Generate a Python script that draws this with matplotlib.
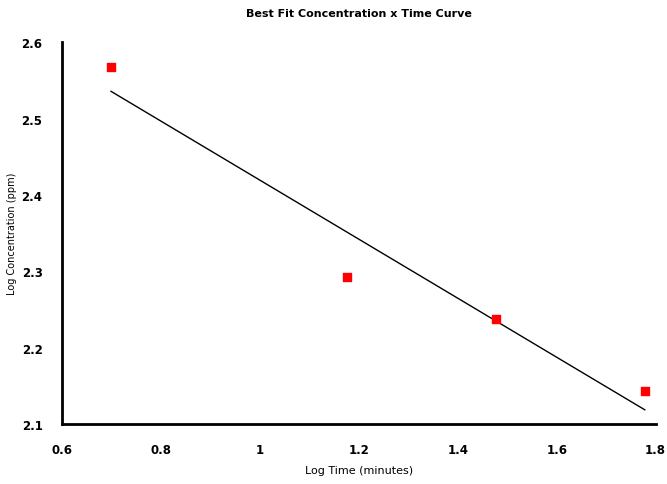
import numpy as np
import matplotlib.pyplot as plt

# log time (minutes) vs log concentration (ppm)
log_time = [0.699, 1.176, 1.477, 1.778]
log_conc = [2.568, 2.292, 2.237, 2.143]

x_ticks = [0.6, 0.8, 1.0, 1.2, 1.4, 1.6, 1.8]
x_tick_labels = ["0.6", "0.8", "1", "1.2", "1.4", "1.6", "1.8"]
y_ticks = [2.1, 2.2, 2.3, 2.4, 2.5, 2.6]

# best fit line from the points
slope, intercept = np.polyfit(log_time, log_conc, 1)
fit_x = np.array([log_time[0], log_time[-1]])
fit_y = intercept + slope * fit_x

fig = plt.figure(figsize=(6.67, 4.85), dpi=100)
ax = fig.add_axes([0.093, 0.124, 0.89, 0.787])

ax.plot(fit_x, fit_y, color="black", linewidth=1)
ax.scatter(log_time, log_conc, marker="s", s=40, color="red", zorder=3)

ax.set_xlim(0.6, 1.8)
ax.set_ylim(2.1, 2.6)
ax.set_xticks(x_ticks)
ax.set_xticklabels(x_tick_labels)
ax.set_yticks(y_ticks)
ax.tick_params(length=0, labelsize=8.5, pad=14)
ax.tick_params(axis="y", pad=14)
for lbl in ax.get_xticklabels() + ax.get_yticklabels():
    lbl.set_fontweight("bold")

for side in ["top", "right"]:
    ax.spines[side].set_visible(False)
for side in ["left", "bottom"]:
    ax.spines[side].set_linewidth(2)

ax.set_xlabel("Log Time (minutes)", fontsize=8, labelpad=6)
ax.set_ylabel("Log Concentration (ppm)", fontsize=7, labelpad=3)
ax.set_title("Best Fit Concentration x Time Curve", fontsize=8, fontweight="bold", pad=19)

fig.savefig("out.png", dpi=100)
